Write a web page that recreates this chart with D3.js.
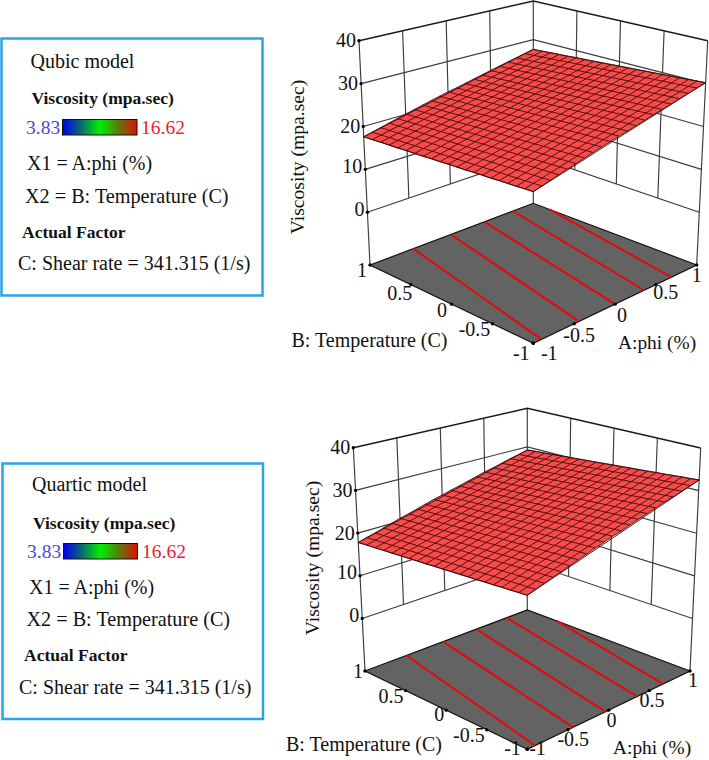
<!DOCTYPE html>
<html><head><meta charset="utf-8">
<style>
html,body{margin:0;padding:0;background:#fff}
svg{display:block}
text{font-family:"Liberation Serif","Times New Roman",serif;fill:#111}
</style>
<script src="https://cdn.jsdelivr.net/npm/d3@7/dist/d3.min.js"></script>
</head><body>
<script>
// ---- data ----
const zTicks = [0, 10, 20, 30, 40];
const floorTicks = [-1, -0.5, 0, 0.5, 1];
const gridInner = [-0.5, 0, 0.5];
const legendRange = ["3.83", "16.62"];
const legendLabels = ["Viscosity (mpa.sec)", "X1 = A:phi (%)", "X2 = B: Temperature (C)", "Actual Factor", "C: Shear rate = 341.315 (1/s)"];
const axisTitles = ["Viscosity (mpa.sec)", "B: Temperature (C)", "A:phi (%)"];
const meshIndex = d3.range(21);

// surface heights along the four edges of the mesh (21 knots each)
const cubicAtBLow  = [20.3,20.8,21.3,21.8,22.3,22.8,23.3,23.8,24.3,24.8,25.3,25.7,26.2,26.7,27.2,27.7,28.2,28.7,29.2,29.7,30.2];
const cubicAtBHigh = [17.6,18.1,18.6,19.1,19.6,20.1,20.6,21.1,21.6,22.1,22.6,23.0,23.5,24.0,24.5,25.0,25.5,26.0,26.5,27.0,27.5];
const cubicAtALow  = [20.3,20.2,20.0,19.9,19.8,19.6,19.5,19.4,19.2,19.1,19.0,18.8,18.7,18.5,18.4,18.3,18.1,18.0,17.9,17.7,17.6];
const cubicAtAHigh = [30.2,30.1,29.9,29.8,29.7,29.5,29.4,29.3,29.1,29.0,28.9,28.7,28.6,28.4,28.3,28.2,28.0,27.9,27.8,27.6,27.5];
const quarticAtBLow  = [20.8,21.4,22.0,22.6,23.1,23.7,24.3,24.9,25.5,26.1,26.7,27.2,27.8,28.4,29.0,29.6,30.2,30.7,31.3,31.9,32.5];
const quarticAtBHigh = [17.8,18.4,18.9,19.5,20.1,20.7,21.2,21.8,22.4,23.0,23.5,24.1,24.6,25.2,25.8,26.4,26.9,27.5,28.1,28.6,29.2];
const quarticAtALow  = [20.8,20.7,20.5,20.4,20.2,20.1,19.9,19.8,19.6,19.5,19.3,19.2,19.0,18.9,18.7,18.6,18.4,18.3,18.1,18.0,17.8];
const quarticAtAHigh = [32.5,32.3,32.2,32.0,31.8,31.7,31.5,31.3,31.2,31.0,30.9,30.7,30.5,30.4,30.2,30.0,29.9,29.7,29.5,29.4,29.2];

// contour lines on the floor, each from its [a,b] start to its [a,b] end
const cubicContours = [[[-0.47,1],[-0.90,-1]],[[-0.01,1],[-0.44,-1]],[[0.40,1],[0,-1]],[[0.75,1],[0.355,-1]],[[1,0.80],[0.69,-1]]];
const quarticContours = [[[-0.49,1],[-0.905,-1]],[[-0.035,1],[-0.44,-1]],[[0.37,1],[-0.04,-1]],[[0.745,1],[0.35,-1]],[[1,0.64],[0.67,-1]]];

// ---- layout ----
const W = 709, H = 760;
const svg = d3.select("body").append("svg").attr("width", W).attr("height", H);
const defs = svg.append("defs");
const grad = defs.append("linearGradient").attr("id", "rampFill");
[["0%","#0000f0"],["25%","#0a6a70"],["50%","#00f000"],["75%","#5a7a10"],["100%","#e01000"]]
  .forEach(s => grad.append("stop").attr("offset", s[0]).attr("stop-color", s[1]));

const FLOOR_Z = -12.3, TOP_Z = 40;

function drawPlot(cfg) {
  const g = svg.append("g");
  const cornerX = {}, cornerY = {};
  for (const k of ["F","L","R","B"]) {
    cornerX[k] = d3.scaleLinear().domain([FLOOR_Z, TOP_Z]).range([cfg.corners[k][0], cfg.corners[k][2]]);
    cornerY[k] = d3.scaleLinear().domain([FLOOR_Z, TOP_Z]).range([cfg.corners[k][1], cfg.corners[k][3]]);
  }
  const u = d3.scaleLinear().domain([-1, 1]).range([0, 1]);
  const project = (a, b, z) => {
    const s = u(a), t = u(b);
    const mix = c => (1-s)*(1-t)*c.F(z) + (1-s)*t*c.L(z) + s*(1-t)*c.R(z) + s*t*c.B(z);
    return [mix(cornerX), mix(cornerY)];
  };
  const line = d3.line();
  const seg = (pts, stroke, width, parent) => (parent || g).append("path")
    .attr("d", line(pts)).attr("fill", "none").attr("stroke", stroke).attr("stroke-width", width);

  const wallColor = "#3c3c3c";
  // verticals on the walls
  gridInner.forEach(v => {
    seg([project(v, 1, 0), project(v, 1, TOP_Z)], wallColor, 1.15);
    seg([project(1, v, 0), project(1, v, TOP_Z)], wallColor, 1.15);
  });
  // corner posts run down to the floor plane
  seg([project(-1, 1, FLOOR_Z), project(-1, 1, TOP_Z)], wallColor, 1.15);
  seg([project(1, 1, FLOOR_Z), project(1, 1, TOP_Z)], wallColor, 1.15);
  seg([project(1, -1, FLOOR_Z), project(1, -1, TOP_Z)], wallColor, 1.15);
  // horizontals on the walls
  zTicks.forEach(z => {
    const top = z === TOP_Z;
    seg([project(-1, 1, z), project(1, 1, z), project(1, -1, z)], top ? "#1a1a1a" : wallColor, top ? 1.5 : 1.15);
  });

  // floor
  g.append("path")
    .attr("d", line([project(-1,-1,FLOOR_Z), project(-1,1,FLOOR_Z), project(1,1,FLOOR_Z), project(1,-1,FLOOR_Z)]) + "Z")
    .attr("fill", "#636363").attr("stroke", "#111").attr("stroke-width", 1.2);
  cfg.contours.forEach(c => seg(c.map(p => project(p[0], p[1], FLOOR_Z)), "#e80808", 2));

  // surface
  const edge = cfg.surface;
  const outline = [
    ...meshIndex.map(i => project(-1 + i/10, -1, edge.bLow[i])),
    ...meshIndex.map(i => project(1, -1 + i/10, edge.aHigh[i])),
    ...meshIndex.map(i => project(1 - i/10, 1, edge.bHigh[20 - i])),
    ...meshIndex.map(i => project(-1, 1 - i/10, edge.aLow[20 - i]))
  ];
  g.append("path").attr("d", line(outline) + "Z").attr("fill", "#fa4a4a").attr("stroke", "#4a1212").attr("stroke-width", 0.9);
  meshIndex.forEach(i => {
    const c = -1 + i/10;
    seg([project(c, -1, edge.bLow[i]), project(c, 1, edge.bHigh[i])], "#3a0e0e", 0.9);
    seg([project(-1, c, edge.aLow[i]), project(1, c, edge.aHigh[i])], "#3a0e0e", 0.9);
  });

  const dot = p => g.append("circle").attr("cx", p[0]).attr("cy", p[1]).attr("r", 1.7).attr("fill", "#000");
  const label = (txt, x, y, anchor, size) => g.append("text").attr("x", x).attr("y", y)
    .attr("text-anchor", anchor || "middle").attr("font-size", size || 20).text(txt);

  // z axis
  zTicks.forEach((z, i) => {
    const p = project(-1, 1, z);
    dot(p);
    label(String(z), p[0] - 3, p[1] + cfg.zLabelDy[i], "end");
  });
  // floor axes
  floorTicks.forEach((v, i) => {
    const pb = project(-1, v, FLOOR_Z), pa = project(v, -1, FLOOR_Z);
    dot(pb); dot(pa);
    label(String(v), pb[0] + cfg.bOffset[i][0], pb[1] + cfg.bOffset[i][1]);
    label(String(v), pa[0] + cfg.aOffset[i][0], pa[1] + cfg.aOffset[i][1]);
  });
  // titles
  g.append("text").attr("transform", `translate(${cfg.zTitle[0]},${cfg.zTitle[1]}) rotate(-90)`)
    .attr("text-anchor", "middle").attr("font-size", 19.6).text(axisTitles[0]);
  label(axisTitles[1], cfg.bTitle[0], cfg.bTitle[1], "start", 20);
  label(axisTitles[2], cfg.aTitle[0], cfg.aTitle[1], "start", 19.4);
}

function drawLegend(cfg) {
  const g = svg.append("g");
  g.append("rect").attr("x", cfg.box[0]).attr("y", cfg.box[1]).attr("width", cfg.box[2]).attr("height", cfg.box[3])
    .attr("fill", "#fff").attr("stroke", "#2aa5e4").attr("stroke-width", 2.5);
  const t = (txt, pos, size, weight, fill) => g.append("text").attr("x", pos[0]).attr("y", pos[1])
    .attr("font-size", size).attr("font-weight", weight || "normal").style("fill", fill || "#111").text(txt);
  t(cfg.title, cfg.titlePos, 20);
  t(legendLabels[0], cfg.pos[0], 17.5, "bold");
  t(legendRange[0], cfg.lowPos, 19.5, null, "#4a46d8");
  t(legendRange[1], cfg.highPos, 19.5, null, "#ee1c30");
  g.append("rect").attr("x", cfg.bar[0]).attr("y", cfg.bar[1]).attr("width", cfg.bar[2]).attr("height", cfg.bar[3])
    .attr("fill", "url(#rampFill)").attr("stroke", "#111").attr("stroke-width", 1);
  t(legendLabels[1], cfg.pos[1], 20);
  t(legendLabels[2], cfg.pos[2], 20.2);
  t(legendLabels[3], cfg.pos[3], 17.5, "bold");
  t(legendLabels[4], cfg.pos[4], 20);
}

drawLegend({
  title: "Qubic model", box: [1.5, 38.5, 261, 257], titlePos: [30.5, 67.5],
  lowPos: [26, 133.5], highPos: [141, 133.5], bar: [62.5, 119.5, 74.5, 15.5],
  pos: [[31.5, 104], [27, 170], [25, 202.5], [22, 237.5], [18, 269.5]]
});
drawLegend({
  title: "Quartic model", box: [2.5, 463.5, 260.5, 255.5], titlePos: [32, 490.5],
  lowPos: [27, 557.5], highPos: [142, 557.5], bar: [63.5, 543.5, 74, 15.5],
  pos: [[33, 528.5], [29, 594], [26.5, 626], [24, 661], [19, 693.5]]
});

drawPlot({
  corners: { F: [533.3,343.3,533.3,100], L: [370,265,359,40.7], R: [696.7,265,707.7,40.7], B: [533.3,203.3,533.3,1] },
  surface: { bLow: cubicAtBLow, bHigh: cubicAtBHigh, aLow: cubicAtALow, aHigh: cubicAtAHigh },
  contours: cubicContours,
  zLabelDy: [3.5, 3.5, 6.5, 6.5, 6.5],
  bOffset: [[-12,17],[-18,12.7],[-9.7,12.7],[-11,15],[-8,12]],
  aOffset: [[16,17],[5,18],[7,18],[10,14],[0,17]],
  zTitle: [304, 157], bTitle: [291.5, 346.5], aTitle: [618, 348.5]
});
drawPlot({
  corners: { F: [527.3,749.3,527.3,506], L: [365,671,353.3,447.7], R: [690,671,700.7,448], B: [527.3,610,527.3,408.3] },
  surface: { bLow: quarticAtBLow, bHigh: quarticAtBHigh, aLow: quarticAtALow, aHigh: quarticAtAHigh },
  contours: quarticContours,
  zLabelDy: [3.5, 3.5, 6.5, 6.5, 6.5],
  bOffset: [[-14.8,6],[-17.8,12],[-7,10.7],[-14.7,12],[-7,7]],
  aOffset: [[10.2,6],[5.3,16.3],[2.9,16.7],[2.7,16.8],[3,15.7]],
  zTitle: [319, 558], bTitle: [286, 750.5], aTitle: [613, 753.5]
});
</script>
</body></html>
